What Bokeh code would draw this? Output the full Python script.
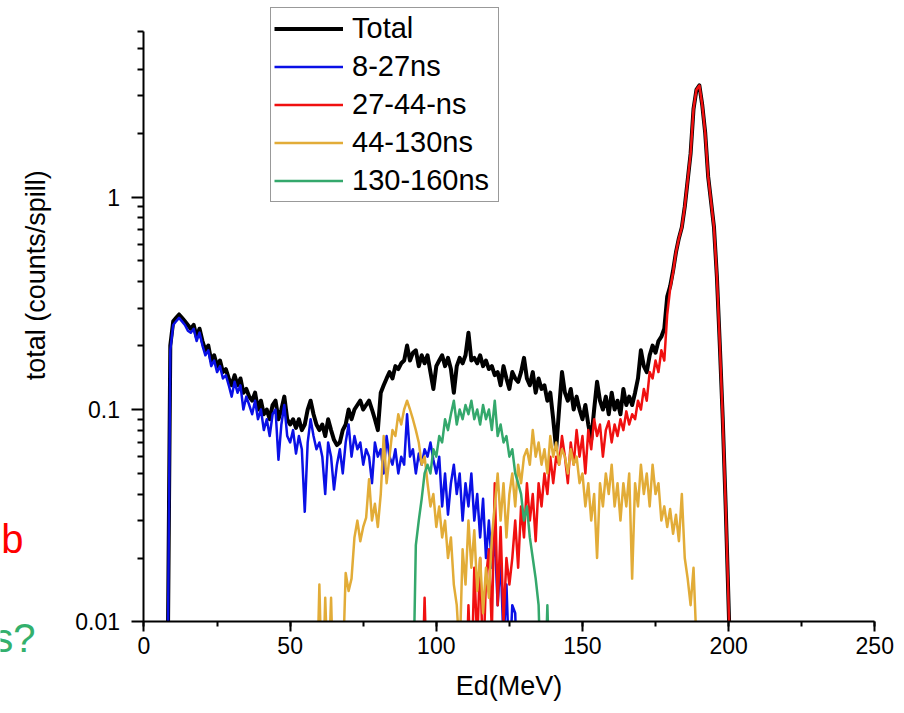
from math import pi
from bokeh.plotting import figure
from bokeh.models import (FixedTicker, SingleIntervalTicker, Label, Legend, LegendItem,
                          Range1d, CustomJSTickFormatter)
from bokeh.embed import file_html
from bokeh.resources import INLINE

# ---- data (Ed in MeV, 1 MeV bins; counts/spill) ----
e_total = list(range(8, 202))
total = [0.004, 0.2,
         0.26, 0.27, 0.28, 0.27, 0.26, 0.25, 0.24, 0.25, 0.22, 0.24,
         0.21, 0.19, 0.2, 0.17, 0.18, 0.16, 0.17, 0.15, 0.155, 0.14,
         0.13, 0.145, 0.13, 0.14, 0.12, 0.125, 0.115, 0.11, 0.12, 0.1,
         0.11, 0.095, 0.1, 0.09, 0.105, 0.11, 0.09, 0.1, 0.115, 0.09,
         0.085, 0.09, 0.082, 0.09, 0.08, 0.085, 0.1, 0.11, 0.095, 0.085,
         0.08, 0.085, 0.075, 0.09, 0.08, 0.072, 0.068, 0.07, 0.08, 0.085,
         0.1, 0.09, 0.1, 0.105, 0.11, 0.1, 0.105, 0.11, 0.1, 0.09,
         0.08, 0.12, 0.13, 0.14, 0.15, 0.14, 0.16, 0.155, 0.165, 0.17,
         0.2, 0.17, 0.185, 0.19, 0.16, 0.18, 0.165, 0.18, 0.15, 0.125,
         0.16, 0.17, 0.18, 0.16, 0.175, 0.155, 0.12, 0.16, 0.175, 0.165,
         0.18, 0.23, 0.17, 0.175, 0.165, 0.18, 0.16, 0.17, 0.155, 0.16,
         0.145, 0.15, 0.13, 0.16, 0.14, 0.125, 0.15, 0.14, 0.135, 0.15,
         0.175, 0.14, 0.13, 0.15, 0.12, 0.14, 0.125, 0.13, 0.11, 0.12,
         0.09, 0.065, 0.1, 0.15, 0.12, 0.11, 0.125, 0.1, 0.115, 0.1,
         0.09, 0.105, 0.085, 0.072, 0.1, 0.135, 0.11, 0.1, 0.115, 0.095,
         0.12, 0.1, 0.11, 0.095, 0.125, 0.105, 0.115, 0.105, 0.12, 0.14,
         0.19, 0.16, 0.15, 0.18, 0.2, 0.185, 0.21, 0.22, 0.24, 0.34,
         0.38, 0.45, 0.55, 0.64, 0.72, 0.9, 1.2, 1.6, 2.6, 3.2,
         3.35, 2.7, 2.0, 1.25, 0.95, 0.72, 0.42, 0.2, 0.09, 0.035,
         0.012, 0.004]

e_8_27 = list(range(8, 129))
ns_8_27 = [0.004, 0.19,
           0.25, 0.26, 0.27, 0.26, 0.25, 0.235, 0.23, 0.24, 0.21, 0.23,
           0.2, 0.18, 0.19, 0.16, 0.17, 0.15, 0.16, 0.14, 0.145, 0.13,
           0.115, 0.135, 0.12, 0.13, 0.1, 0.115, 0.105, 0.095, 0.11, 0.09,
           0.1, 0.08, 0.09, 0.075, 0.095, 0.1, 0.058, 0.085, 0.105, 0.075,
           0.07, 0.08, 0.062, 0.075, 0.065, 0.033, 0.07, 0.09, 0.075, 0.065,
           0.07, 0.06, 0.04, 0.07, 0.06, 0.042, 0.055, 0.065, 0.05, 0.07,
           0.085, 0.06, 0.075, 0.065, 0.07, 0.055, 0.065, 0.06, 0.045, 0.07,
           0.06, 0.065, 0.05, 0.075, 0.06, 0.055, 0.065, 0.05, 0.06, 0.055,
           0.095, 0.06, 0.065, 0.05, 0.062, 0.055, 0.065, 0.06, 0.07, 0.058,
           0.05, 0.06, 0.035, 0.05, 0.032, 0.045, 0.055, 0.04, 0.05, 0.03,
           0.045, 0.035, 0.05, 0.03, 0.04, 0.025, 0.038, 0.02, 0.03, 0.018,
           0.025, 0.012, 0.02, 0.008, 0.015, 0.006, 0.012, 0.011, 0.004]

e_27_44 = list(range(95, 202))
ns_27_44 = [0.004, 0.013, 0.004, 0.004, 0.004,
            0.004, 0.004, 0.004, 0.004, 0.004, 0.004, 0.004, 0.004, 0.004, 0.004,
            0.004, 0.012, 0.005, 0.018, 0.008, 0.02, 0.006, 0.016, 0.022, 0.009,
            0.045, 0.012, 0.028, 0.01, 0.02, 0.015, 0.02, 0.03, 0.018, 0.035,
            0.025, 0.045, 0.03, 0.04, 0.024, 0.045, 0.035, 0.05, 0.04, 0.06,
            0.045, 0.06, 0.055, 0.075, 0.06, 0.045, 0.07, 0.055, 0.08, 0.06,
            0.075, 0.05, 0.08, 0.065, 0.09, 0.075, 0.085, 0.06, 0.08, 0.088,
            0.07, 0.085, 0.075, 0.09, 0.08, 0.098, 0.085, 0.095, 0.09, 0.11,
            0.1, 0.125, 0.11, 0.15, 0.14, 0.17, 0.15, 0.19, 0.17, 0.28,
            0.37, 0.44, 0.55, 0.64, 0.72, 0.9, 1.2, 1.6, 2.6, 3.2,
            3.35, 2.7, 2.0, 1.25, 0.95, 0.72, 0.42, 0.2, 0.09, 0.035,
            0.012, 0.004]

e_44_130 = list(range(59, 191))
ns_44_130 = [0.004,
             0.015, 0.004, 0.013, 0.005, 0.013, 0.004, 0.004, 0.004, 0.006, 0.017,
             0.014, 0.016, 0.025, 0.03, 0.024, 0.028, 0.031, 0.047, 0.03, 0.036,
             0.028, 0.04, 0.075, 0.045, 0.06, 0.08, 0.075, 0.095, 0.085, 0.1,
             0.11, 0.1, 0.09, 0.08, 0.07, 0.055, 0.06, 0.045, 0.035, 0.04,
             0.028, 0.035, 0.025, 0.03, 0.02, 0.025, 0.015, 0.012, 0.007, 0.022,
             0.015, 0.03, 0.018, 0.027, 0.014, 0.02, 0.011, 0.018, 0.013, 0.025,
             0.035, 0.05, 0.03, 0.045, 0.025, 0.04, 0.05, 0.035, 0.055, 0.045,
             0.06, 0.065, 0.055, 0.08, 0.06, 0.07, 0.055, 0.065, 0.05, 0.075,
             0.06, 0.07, 0.055, 0.065, 0.06, 0.05, 0.065, 0.055, 0.06, 0.045,
             0.05, 0.035, 0.045, 0.03, 0.04, 0.02, 0.045, 0.035, 0.05, 0.04,
             0.055, 0.035, 0.045, 0.03, 0.045, 0.035, 0.05, 0.016, 0.045, 0.035,
             0.055, 0.04, 0.05, 0.035, 0.055, 0.04, 0.045, 0.03, 0.035, 0.028,
             0.034, 0.026, 0.032, 0.024, 0.04, 0.02, 0.016, 0.012, 0.018, 0.008,
             0.004]

e_130_160 = list(range(92, 140))
ns_130_160 = [0.004, 0.023, 0.03, 0.038, 0.05, 0.055, 0.05, 0.065,
              0.06, 0.075, 0.07, 0.09, 0.08, 0.095, 0.11, 0.085, 0.1, 0.09,
              0.105, 0.095, 0.11, 0.09, 0.1, 0.085, 0.105, 0.09, 0.1, 0.08,
              0.11, 0.075, 0.085, 0.07, 0.075, 0.06, 0.065, 0.05, 0.045, 0.04,
              0.03, 0.035, 0.025, 0.02, 0.016, 0.012, 0.004, 0.004, 0.012, 0.004]

series_labels = ["Total", "8-27ns", "27-44-ns", "44-130ns", "130-160ns"]
x_axis_span = (0, 250)
y_axis_span = (0.01, 6)
y_major = [0.01, 0.1, 1]
y_minor = [0.02, 0.03, 0.04, 0.05, 0.06, 0.07, 0.08, 0.09,
           0.2, 0.3, 0.4, 0.5, 0.6, 0.7, 0.8, 0.9, 2, 3, 4, 5, 6]

FONT = "Liberation Sans"

# whole canvas is the frame; axes are pinned inside it
X0, X1 = -49.09, 257.44
Y0, Y1 = 0.004046, 8.411

p = figure(width=896, height=705,
           x_range=Range1d(X0, X1), y_range=Range1d(Y0, Y1),
           y_axis_type="log", output_backend="svg", toolbar_location=None,
           min_border=0, min_border_left=0, min_border_right=0,
           min_border_top=0, min_border_bottom=0)
p.outline_line_color = None
p.xgrid.visible = False
p.ygrid.visible = False
p.background_fill_color = "white"
p.border_fill_color = "white"

r_tot = p.line(e_total, total, color="black", line_width=4, line_join="round")
r_b = p.line(e_8_27, ns_8_27, color="#0a10e6", line_width=2.5, line_join="round")
r_r = p.line(e_27_44, ns_27_44, color="#f01010", line_width=2.5, line_join="round")
r_g = p.line(e_44_130, ns_44_130, color="#e2ac38", line_width=2.5, line_join="round")
r_gr = p.line(e_130_160, ns_130_160, color="#34a86c", line_width=2.5, line_join="round")

# white mask under the x axis: hides the parts of the lines below 0.01
p.quad(left=[X0], right=[X1], bottom=[Y0], top=[y_axis_span[0]],
       fill_color="white", line_color=None, level="glyph")

xa = p.xaxis[0]
ya = p.yaxis[0]
xa.fixed_location = y_axis_span[0]
ya.fixed_location = x_axis_span[0]
xa.bounds = x_axis_span
ya.bounds = y_axis_span
xa.ticker = SingleIntervalTicker(interval=50, num_minor_ticks=2)
ya.ticker = FixedTicker(ticks=y_major, minor_ticks=y_minor)
ya.formatter = CustomJSTickFormatter(code="return String(tick);")
for ax in (xa, ya):
    ax.axis_line_width = 2
    ax.axis_line_color = "black"
    ax.major_tick_line_width = 2
    ax.minor_tick_line_width = 2
    ax.major_tick_line_color = "black"
    ax.minor_tick_line_color = "black"
    ax.major_tick_in = 0
    ax.minor_tick_in = 0
    ax.major_label_text_font = FONT
    ax.major_label_text_font_size = "23px"
    ax.major_label_text_color = "black"
xa.major_tick_out = 10
xa.minor_tick_out = 5
xa.major_label_standoff = 5
ya.major_tick_out = 12
ya.minor_tick_out = 6
ya.major_label_standoff = 12

xa.axis_label = "Ed(MeV)"
xa.axis_label_text_font = FONT
xa.axis_label_text_font_size = "27px"
xa.axis_label_text_font_style = "normal"
xa.axis_label_text_color = "black"
xa.axis_label_standoff = 14

p.add_layout(Label(x=-37.1, y=0.428, text="total (counts/spill)", angle=pi / 2,
                   text_align="center", text_baseline="middle",
                   text_font=FONT, text_font_size="27px", text_color="black"))
p.add_layout(Label(x=-41.2, y=0.0245, text="b", text_align="right",
                   text_baseline="alphabetic", text_font=FONT,
                   text_font_size="40px", text_color="#ff0000"))
p.add_layout(Label(x=-37.1, y=0.0084, text="s?", text_align="right",
                   text_baseline="alphabetic", text_font=FONT,
                   text_font_size="40px", text_color="#33b06c"))

legend = Legend(items=[LegendItem(label=series_labels[i], renderers=[r])
                       for i, r in enumerate([r_tot, r_b, r_r, r_g, r_gr])],
                location=(270, 503))
legend.label_text_font = FONT
legend.label_text_font_size = "29px"
legend.label_text_color = "black"
legend.glyph_width = 69
legend.glyph_height = 35
legend.label_height = 35
legend.label_width = 143
legend.label_standoff = 9
legend.spacing = 3
legend.padding = 3
legend.margin = 0
legend.border_line_color = "#333333"
legend.border_line_width = 1
legend.background_fill_color = "white"
legend.background_fill_alpha = 1.0
p.add_layout(legend)

open("out.html", "w").write(file_html(p, INLINE))
